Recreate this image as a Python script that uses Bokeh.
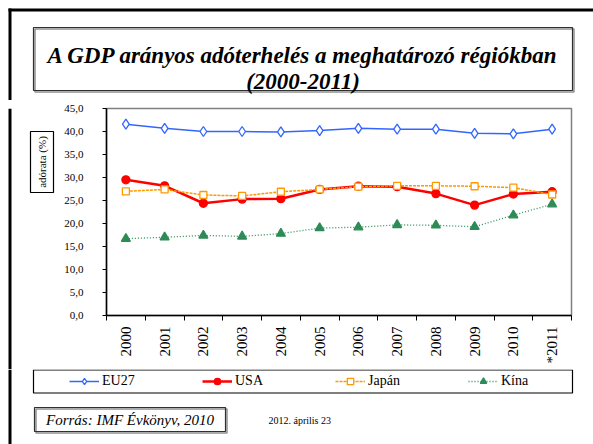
import math
from bokeh.plotting import figure
from bokeh.layouts import column, row
from bokeh.models import (Range1d, FixedTicker, Legend, LegendItem, Label)
from bokeh.embed import file_html
from bokeh.resources import INLINE

years = ["2000", "2001", "2002", "2003", "2004", "2005", "2006", "2007", "2008", "2009", "2010", "*2011"]
eu27 = [41.6, 40.7, 40.0, 40.0, 39.9, 40.2, 40.7, 40.5, 40.5, 39.6, 39.5, 40.5]
usa = [29.5, 28.2, 24.4, 25.3, 25.4, 27.4, 28.1, 28.0, 26.5, 24.0, 26.4, 26.9]
japan = [27.0, 27.4, 26.2, 26.0, 26.9, 27.4, 28.0, 28.2, 28.2, 28.1, 27.8, 26.3]
china = [16.7, 17.0, 17.4, 17.2, 17.8, 19.0, 19.2, 19.7, 19.6, 19.3, 21.8, 24.2]
y_ticks = [0, 5, 10, 15, 20, 25, 30, 35, 40, 45]
y_tick_labels = ["0,0", "5,0", "10,0", "15,0", "20,0", "25,0", "30,0", "35,0", "40,0", "45,0"]
series_names = ["EU27", "USA", "Japán", "Kína"]
title_lines = ["A GDP arányos adóterhelés a meghatározó régiókban", "(2000-2011)"]
y_title = "adórata (%)"
source_text = "Forrás: IMF Évkönyv, 2010"
date_text = "2012. április 23"

SERIF = "Liberation Serif"
TOTAL_W, TOTAL_H = 593, 444
TOP_H = 100          # title strip
CHART_H = 269        # chart strip
BOT_H = TOTAL_H - TOP_H - CHART_H
LEFT_W = 56          # left strip beside the chart

styles = {
    "EU27": dict(color="#3366FF", lw=1.5, dash="solid", marker="diamond", size=10, fill="white"),
    "USA": dict(color="#FF0000", lw=2.5, dash="solid", marker="circle", size=8, fill="#FF0000"),
    "Japán": dict(color="#FF9900", lw=1.5, dash="3 1", marker="square", size=7, fill="white"),
    "Kína": dict(color="#2E8B57", lw=1.3, dash="1 2", marker="triangle", size=9, fill="#2E8B57"),
}


def deco(w, h):
    """A figure whose frame is its whole canvas, in pixel coordinates (y down)."""
    f = figure(width=w, height=h, frame_width=w, frame_height=h,
               output_backend="svg", toolbar_location=None,
               x_range=Range1d(0, w), y_range=Range1d(h, 0),
               x_axis_location=None, y_axis_location=None, min_border=0)
    f.outline_line_color = None
    f.xgrid.grid_line_color = None
    f.ygrid.grid_line_color = None
    f.background_fill_color = "white"
    f.border_fill_color = "white"
    return f


def box(f, l, r, t, b, color="black", width=1.0):
    f.quad(left=[l], right=[r], top=[t], bottom=[b], fill_color=None,
           line_color=color, line_width=width)


# ---------- title strip ----------
top = deco(TOTAL_W, TOP_H)
top.segment(x0=[8, 9.5], y0=[9.5, 8], x1=[TOTAL_W, 9.5], y1=[9.5, TOP_H],
            line_color="black", line_width=3)
box(top, 34.5, 573.5, 28.5, 91.5, color="#909090", width=1.5)  # shadow
box(top, 33, 572, 27, 90, color="#303030", width=1.2)
for txt, base in zip(title_lines, [55, 81]):
    top.add_layout(Label(x=302.5, y=base, text=txt, text_align="center",
                         text_baseline="alphabetic", text_font=SERIF,
                         text_font_style="bold italic", text_font_size="23px",
                         text_color="black"))

# ---------- left strip ----------
left = deco(LEFT_W, CHART_H)
left.segment(x0=[9.5], y0=[0], x1=[9.5], y1=[CHART_H], line_color="black", line_width=3)
box(left, 30, 53, 23, 84, color="black", width=1.2)
left.add_layout(Label(x=41.5, y=53.5, text=y_title, angle=math.pi / 2,
                      text_align="center", text_baseline="middle", text_font=SERIF,
                      text_font_size="11px", text_color="black"))

# ---------- chart ----------
xs = [i + 0.5 for i in range(len(years))]
p = figure(width=TOTAL_W - LEFT_W, height=CHART_H, output_backend="svg",
           toolbar_location=None, x_range=Range1d(0, len(years)), y_range=Range1d(0, 45),
           min_border_left=50, min_border_right=22, min_border_top=8, min_border_bottom=54)
p.background_fill_color = "white"
p.border_fill_color = "white"
p.outline_line_color = "#808080"
p.outline_line_width = 1.5
p.xgrid.grid_line_color = None
p.ygrid.grid_line_color = None

xa = p.xaxis[0]
xa.ticker = FixedTicker(ticks=xs, minor_ticks=list(range(len(years) + 1)))
xa.major_label_overrides = {x: y for x, y in zip(xs, years)}
xa.major_label_orientation = math.pi / 2
xa.major_tick_line_color = None
xa.minor_tick_line_color = "black"
xa.minor_tick_out = 5
xa.minor_tick_in = 0
xa.axis_line_color = "black"
xa.axis_line_width = 1.5
xa.major_label_standoff = 5
xa.major_label_text_font = SERIF
xa.major_label_text_font_size = "15px"
xa.major_label_text_color = "black"

ya = p.yaxis[0]
ya.ticker = FixedTicker(ticks=y_ticks)
ya.major_label_overrides = {t: s for t, s in zip(y_ticks, y_tick_labels)}
ya.major_tick_out = 4
ya.major_tick_in = 0
ya.minor_tick_line_color = None
ya.axis_line_color = "black"
ya.axis_line_width = 1.5
ya.major_label_standoff = 19
ya.major_label_text_font = SERIF
ya.major_label_text_font_size = "11px"
ya.major_label_text_color = "black"

for name, vals in zip(series_names, [eu27, usa, japan, china]):
    s = styles[name]
    p.line(xs, vals, line_color=s["color"], line_width=s["lw"], line_dash=s["dash"])
    p.scatter(xs, vals, marker=s["marker"], size=s["size"], line_color=s["color"],
              fill_color=s["fill"], line_width=1.3)

# ---------- bottom strip ----------
bot = deco(TOTAL_W, BOT_H)
bot.segment(x0=[9.5], y0=[0], x1=[9.5], y1=[BOT_H], line_color="black", line_width=3)
box(bot, 33, 572, 0.5, 23.5, color="black", width=1.2)
nan = float("nan")
items = []
for name in series_names:
    s = styles[name]
    # legend-only renderers (no visible points)
    rl = bot.line([nan], [nan], line_color=s["color"], line_width=s["lw"], line_dash=s["dash"])
    rm = bot.scatter([nan], [nan], marker=s["marker"], size=s["size"], line_color=s["color"],
                     fill_color=s["fill"], line_width=1.3)
    items.append(LegendItem(label=name, renderers=[rl, rm]))
legend = Legend(items=items, orientation="horizontal", location=(69, BOT_H - 12 - 8),
                glyph_width=30, glyph_height=16, label_height=16, label_width=40,
                label_standoff=3, spacing=60, padding=0, margin=0,
                border_line_color=None, background_fill_alpha=0,
                label_text_font=SERIF, label_text_font_size="14px",
                label_text_color="black")
bot.add_layout(legend)
box(bot, 35.5, 226.5, 39.5, 63.5, color="#909090", width=1.5)  # shadow
box(bot, 34, 225, 38, 62, color="#303030", width=1.2)
bot.add_layout(Label(x=129.5, y=50, text=source_text, text_align="center",
                     text_baseline="middle", text_font=SERIF, text_font_style="italic",
                     text_font_size="15px", text_color="black"))
bot.add_layout(Label(x=268, y=51, text=date_text, text_align="left",
                     text_baseline="middle", text_font=SERIF, text_font_size="10px",
                     text_color="black"))

layout = column(top, row(left, p), bot)
open("out.html", "w").write(file_html(layout, INLINE))
